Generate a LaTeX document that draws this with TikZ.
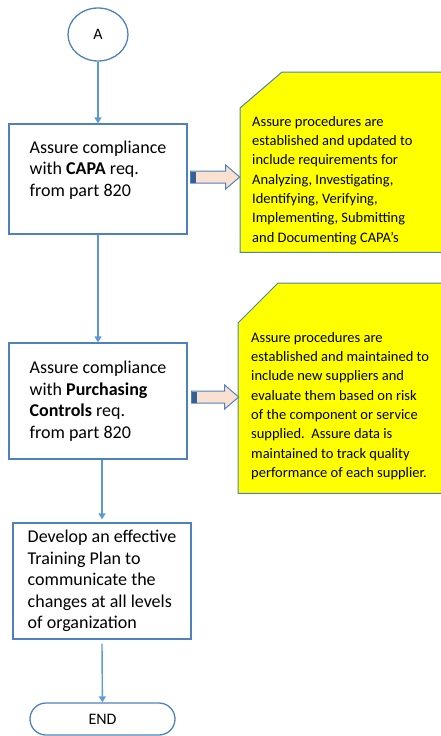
\documentclass[tikz,border=0pt]{standalone}
\usepackage{fontspec}
\setmainfont{Carlito}
\usetikzlibrary{positioning,arrows.meta,shapes.geometric}

\definecolor{boxblue}{RGB}{79,129,189}
\definecolor{lineblue}{RGB}{91,155,213}
\definecolor{noteyellow}{RGB}{255,255,0}
\definecolor{arrowfill}{RGB}{250,224,208}
\definecolor{capblue}{RGB}{54,96,146}

\begin{document}
\begin{tikzpicture}[
  x=1pt, y=-1pt,
  process/.style={rectangle, draw=boxblue, line width=1.3pt, fill=white,
    minimum width=178pt, align=left, inner ysep=0pt,
    font=\fontsize{18}{21.5}\selectfont},
  connector/.style={ellipse, draw=boxblue, line width=1.3pt, fill=white,
    minimum width=60pt, minimum height=53pt, font=\fontsize{16}{18}\selectfont},
  terminal/.style={rectangle, rounded corners=16pt, draw=boxblue, line width=1.3pt,
    minimum width=145pt, minimum height=32pt, font=\fontsize{16}{18}\selectfont},
  noteframe/.style={rectangle, inner sep=0pt},
  notebody/.style={draw=boxblue, line width=1pt, fill=noteyellow},
  notetext/.style={align=left, inner sep=0pt, font=\fontsize{14.5}{19.3}\selectfont},
  flow/.style={draw=lineblue, line width=1.4pt, -{Triangle[length=6pt,width=7pt]}},
  blockarr/.style={draw=boxblue, line width=1pt, fill=arrowfill},
]
\useasboundingbox (0,0) rectangle (441,736);
\clip (0,0) rectangle (441,736);

% Flow chart (left column)
\node[connector] (A) at (98,34.5) {A};
\node[process, minimum height=110pt] (capa) at (98,179)
  {Assure compliance\\ with \textbf{CAPA} req.\\ from part 820\\ \mbox{}};
\node[process, minimum height=116pt] (purch) at (98,401)
  {Assure compliance\\ with \textbf{Purchasing}\\ \textbf{Controls} req.\\ from part 820};
\node[process, minimum height=116pt] (train) at (102,581)
  {Develop an effective\\ Training Plan to\\ communicate the\\ changes at all levels\\ of organization};
\node[terminal] (end) at (102.5,719) {END};

% Notes (right column)
\node[noteframe, minimum width=220pt, minimum height=180pt, anchor=north west] (capanote) at (240,72) {};
\filldraw[notebody] ([yshift=-36pt]capanote.north west) -- ([xshift=42pt]capanote.north west)
  -- (capanote.north east) -- (capanote.south east) -- (capanote.south west) -- cycle;
\node[notetext, anchor=north west] (capatext) at ([xshift=12pt,yshift=-44pt]capanote.north west)
  {Assure procedures are\\ established and updated to\\ include requirements for\\
   Analyzing, Investigating,\\ Identifying, Verifying,\\ Implementing, Submitting\\
   and Documenting CAPA’s};

\node[noteframe, minimum width=222pt, minimum height=210pt, anchor=north west] (purchnote) at (238,283) {};
\filldraw[notebody] ([yshift=-40pt]purchnote.north west) -- ([xshift=40pt]purchnote.north west)
  -- (purchnote.north east) -- (purchnote.south east) -- (purchnote.south west) -- cycle;
\node[notetext, anchor=north west] (purchtext) at ([xshift=13pt,yshift=-49pt]purchnote.north west)
  {Assure procedures are\\ established and maintained to\\ include new suppliers and\\
   evaluate them based on risk\\ of the component or service\\ supplied.\ \ Assure data is\\
   maintained to track quality\\ performance of each supplier.};

% Flow arrows
\draw[flow] (A) -- (capa);
\draw[flow] (capa) -- (purch);
\draw[flow] (train.north |- purch.south) -- ([yshift=3pt]train.north);
\draw[flow] ([yshift=-4pt]train.south) -- (end);

% Block arrows to notes
\filldraw[blockarr] ([xshift=3pt,yshift=2pt]capa.east) -- ++(0pt,6pt) -- ++(35pt,0pt) -- ++(0pt,6pt)
  -- ++(14pt,-12pt) -- ++(-14pt,-12pt) -- ++(0pt,6pt) -- ++(-35pt,0pt) -- cycle;
\fill[capblue] ([xshift=3.5pt,yshift=2pt]capa.east) ++(0pt,-5.5pt) rectangle ++(5pt,11pt);
\filldraw[blockarr] ([xshift=4pt,yshift=4pt]purch.east) -- ++(0pt,6pt) -- ++(33pt,0pt) -- ++(0pt,6pt)
  -- ++(14pt,-12pt) -- ++(-14pt,-12pt) -- ++(0pt,6pt) -- ++(-33pt,0pt) -- cycle;
\fill[capblue] ([xshift=4.5pt,yshift=4pt]purch.east) ++(0pt,-5.5pt) rectangle ++(5pt,11pt);

\end{tikzpicture}
\end{document}
